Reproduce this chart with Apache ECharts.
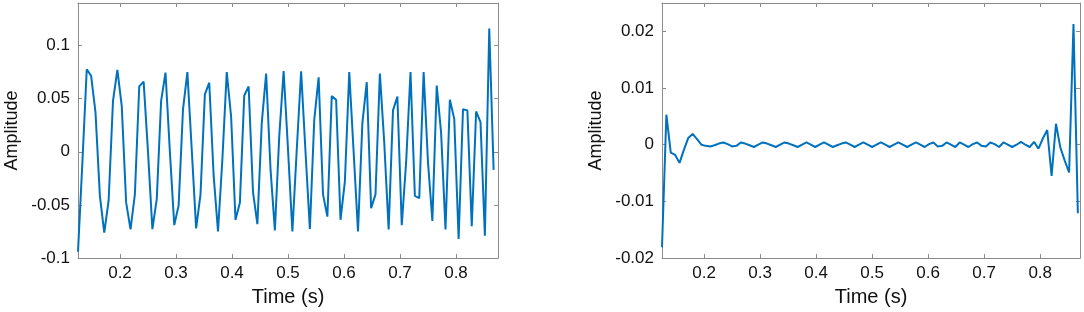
<!DOCTYPE html>
<html>
<head>
<meta charset="utf-8">
<script src="https://cdn.jsdelivr.net/npm/echarts@6/dist/echarts.min.js"></script>
<style>
  html, body { margin: 0; padding: 0; background: #fff; }
  #chart { width: 1084px; height: 312px; }
</style>
</head>
<body>
<div id="chart"></div>
<script>
// sampling grid (1/128 s from 0.125 s)
var t0 = 0.125;
var dt = 1 / 128;

// left panel: raw signal
var signalA = [
  -0.094, -0.010, 0.0776, 0.0715, 0.037, -0.0415, -0.076, -0.046, 0.048, 0.077,
  0.043, -0.0476, -0.073, -0.040, 0.0615, 0.066, 0.000, -0.0727, -0.0445, 0.048,
  0.0745, 0.000, -0.069, -0.0506, 0.040, 0.075, 0.002, -0.072, -0.040, 0.054,
  0.065, -0.022, -0.075, -0.007, 0.075, 0.033, -0.064, -0.048, 0.053, 0.0615,
  -0.038, -0.068, 0.027, 0.0736, -0.016, -0.074, 0.0145, 0.076, 0.0025, -0.075,
  0.002, 0.0757, 0.000, -0.0727, 0.030, 0.070, -0.040, -0.061, 0.0524, 0.049,
  -0.064, -0.028, 0.075, 0.000, -0.075, 0.027, 0.0655, -0.053, -0.040, 0.0736,
  0.0085, -0.073, 0.039, 0.052, -0.069, -0.010, 0.075, -0.0415, -0.0436, 0.075,
  -0.010, -0.065, 0.0624, 0.0176, -0.073, 0.049, 0.031, -0.082, 0.040, 0.039,
  -0.070, 0.038, 0.028, -0.079, 0.116, -0.017
];

// right panel: residual
var signalB = [
  -0.0181, 0.0053, -0.0014, -0.0018, -0.0032, -0.0009, 0.0012, 0.0019, 0.0010, 0.0000,
  -0.0002, -0.0003, -0.0001, 0.0002, 0.0004, 0.0001, -0.0003, -0.0002, 0.0004, 0.0002,
  -0.0001, -0.0004, 0.0000, 0.0004, 0.0002, -0.0001, -0.0004, 0.0000, 0.0004, 0.0002,
  -0.0001, -0.0004, 0.0000, 0.0004, 0.0000, -0.0004, 0.0000, 0.0004, 0.0000, -0.0004,
  -0.0001, 0.0002, 0.0004, 0.0000, -0.0004, 0.0000, 0.0004, 0.0000, -0.0004, 0.0000,
  0.0004, 0.0000, -0.0004, 0.0000, 0.0004, 0.0000, -0.0004, 0.0000, 0.0004, 0.0000,
  -0.0004, 0.0001, 0.0004, -0.0003, -0.0002, 0.0004, 0.0000, -0.0004, 0.0004, 0.0000,
  -0.0004, 0.0001, 0.0004, -0.0002, -0.0003, 0.0004, 0.0001, -0.0004, 0.0004, 0.0000,
  -0.0004, 0.0000, 0.0005, 0.0000, -0.0004, 0.0005, -0.0007, 0.0011, 0.0026, -0.0055,
  0.0037, -0.0005, -0.0028, -0.0049, 0.0213, -0.0121
];

var xTicks = [0.2, 0.3, 0.4, 0.5, 0.6, 0.7, 0.8];
var yTicksA = [-0.1, -0.05, 0, 0.05, 0.1];
var yTicksB = [-0.02, -0.01, 0, 0.01, 0.02];

var times = [];
for (var i = 0; i < signalA.length; i++) {
  times.push(t0 + i * dt);
}
function pairs(vals) {
  return vals.map(function (v, i) { return [times[i], v]; });
}

var font = "Liberation Sans";
var boxColor = "#8c8c8c";
var lineColor = "#0072BD";

function xAxisPair(gi, max) {
  return [
    {
      gridIndex: gi, type: "value", position: "bottom", min: 0.125, max: max,
      name: "Time (s)", nameLocation: "middle", nameGap: 24,
      nameTextStyle: { fontFamily: font, fontSize: 20, color: "#111" },
      axisLine: { show: true, onZero: false, lineStyle: { color: boxColor, width: 1 } },
      axisTick: { show: true, inside: true, length: 4, customValues: xTicks, lineStyle: { color: boxColor } },
      axisLabel: { customValues: xTicks, margin: 7, fontFamily: font, fontSize: 17, color: "#111",
        formatter: function (v) { return String(+v.toFixed(2)); } },
      splitLine: { show: false }
    },
    {
      gridIndex: gi, type: "value", position: "top", min: 0.125, max: max,
      axisLine: { show: true, onZero: false, lineStyle: { color: boxColor, width: 1 } },
      axisTick: { show: true, inside: true, length: 4, customValues: xTicks, lineStyle: { color: boxColor } },
      axisLabel: { show: false, customValues: xTicks },
      splitLine: { show: false }
    }
  ];
}

function yAxisPair(gi, min, max, ticks) {
  return [
    {
      gridIndex: gi, type: "value", position: "left", min: min, max: max,
      name: "Amplitude", nameLocation: "middle", nameGap: 57,
      nameTextStyle: { fontFamily: font, fontSize: 18, color: "#111" },
      axisLine: { show: true, onZero: false, lineStyle: { color: boxColor, width: 1 } },
      axisTick: { show: true, inside: true, length: 4, customValues: ticks, lineStyle: { color: boxColor } },
      axisLabel: { customValues: ticks, margin: 8, fontFamily: font, fontSize: 17, color: "#111",
        formatter: function (v) { return String(+v.toFixed(3)); } },
      splitLine: { show: false }
    },
    {
      gridIndex: gi, type: "value", position: "right", min: min, max: max,
      axisLine: { show: true, onZero: false, lineStyle: { color: boxColor, width: 1 } },
      axisTick: { show: true, inside: true, length: 4, customValues: ticks, lineStyle: { color: boxColor } },
      axisLabel: { show: false, customValues: ticks },
      splitLine: { show: false }
    }
  ];
}

var myChart = echarts.init(document.getElementById("chart"));
var option = {
  animation: false,
  grid: [
    { left: 78, right: 586, top: 3, bottom: 47 },
    { left: 662, right: 4, top: 3, bottom: 47 }
  ],
  xAxis: xAxisPair(0, 0.875).concat(xAxisPair(1, 0.871)),
  yAxis: yAxisPair(0, -0.1, 0.14, yTicksA).concat(yAxisPair(1, -0.02, 0.025, yTicksB)),
  series: [
    {
      type: "line", xAxisIndex: 0, yAxisIndex: 0, data: pairs(signalA),
      showSymbol: false, lineStyle: { color: lineColor, width: 2 }, itemStyle: { color: lineColor }
    },
    {
      type: "line", xAxisIndex: 2, yAxisIndex: 2, data: pairs(signalB),
      showSymbol: false, lineStyle: { color: lineColor, width: 2 }, itemStyle: { color: lineColor }
    }
  ]
};
myChart.setOption(option);
</script>
</body>
</html>
